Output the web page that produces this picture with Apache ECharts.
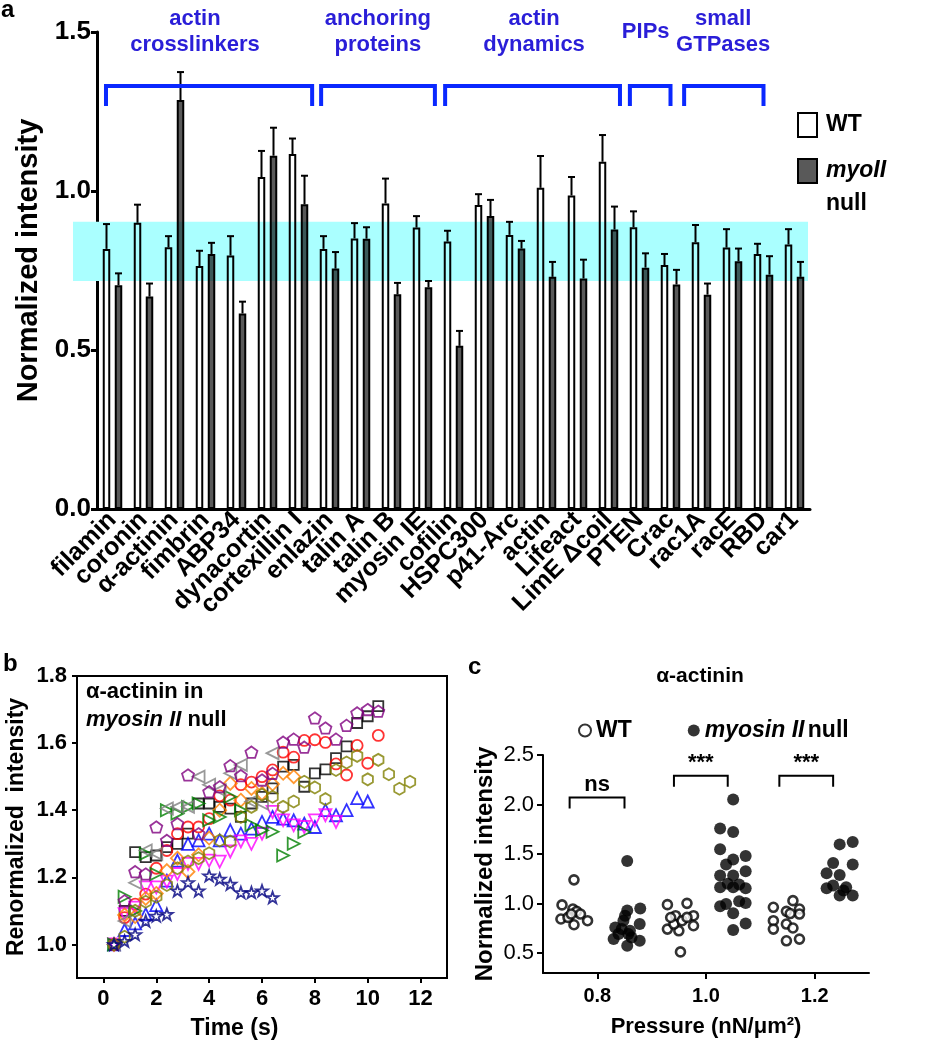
<!DOCTYPE html>
<html><head><meta charset="utf-8">
<script src="https://cdn.jsdelivr.net/npm/echarts@6/dist/echarts.min.js"></script>
<style>html,body{margin:0;padding:0;background:#fff}#c{width:936px;height:1050px}</style>
</head><body><div id="c"></div>
<script>
// ---------- Panel a data ----------
const proteins = ['filamin','coronin','α-actinin','fimbrin','ABP34','dynacortin','cortexillin I','enlazin','talin A','talin B','myosin IE','cofilin','HSPC300','p41-Arc','actin','Lifeact','LimE Δcoil','PTEN','Crac','rac1A','racE','RBD','car1'];
const wtMean   = [0.818,0.900,0.823,0.764,0.797,1.044,1.116,0.818,0.851,0.961,0.885,0.841,0.956,0.862,1.010,0.986,1.092,0.886,0.767,0.839,0.822,0.802,0.832];
const wtErr    = [0.078,0.057,0.035,0.048,0.061,0.082,0.049,0.040,0.048,0.078,0.036,0.034,0.034,0.041,0.100,0.058,0.084,0.050,0.035,0.054,0.058,0.032,0.048];
const nullMean = [0.704,0.668,1.286,0.802,0.615,1.111,0.958,0.756,0.850,0.675,0.697,0.513,0.921,0.819,0.730,0.725,0.879,0.759,0.706,0.674,0.779,0.737,0.730];
const nullErr  = [0.037,0.041,0.088,0.035,0.037,0.088,0.090,0.052,0.036,0.036,0.020,0.047,0.051,0.024,0.047,0.059,0.072,0.045,0.046,0.035,0.040,0.058,0.047];
const groupNames = ['actin\ncrosslinkers','anchoring\nproteins','actin\ndynamics','PIPs','small\nGTPases'];
const groupFirst = [0,7,11,17,19];
const groupLast  = [6,10,16,18,21];
const bandRange  = [0.717, 0.903];

// ---------- Panel b data (time s, renormalized intensity) ----------
const bSquare = [[0.4,1.0],[0.8,1.10],[1.2,1.275],[1.6,1.26],[2.0,1.265],[2.4,1.29],[2.8,1.30],[3.2,1.33],[3.6,1.42],[4.0,1.42],[4.4,1.41],[4.8,1.405],[5.2,1.38],[5.6,1.42],[6.0,1.44],[6.4,1.465],[6.8,1.53],[7.2,1.535],[7.6,1.47],[8.0,1.51],[8.4,1.522],[8.8,1.555],[9.2,1.59],[9.6,1.66],[10.0,1.68],[10.4,1.71]];
const bCircle = [[0.4,1.0],[0.8,1.08],[1.2,1.12],[1.6,1.15],[2.0,1.227],[2.4,1.28],[2.8,1.33],[3.2,1.35],[3.6,1.35],[4.0,1.375],[4.4,1.443],[4.8,1.43],[5.2,1.476],[5.6,1.484],[6.0,1.50],[6.4,1.52],[6.8,1.573],[7.2,1.558],[7.6,1.608],[8.0,1.61],[8.4,1.602],[8.8,1.538],[9.2,1.505],[9.6,1.593],[10.0,1.54],[10.4,1.623]];
const bTriUp = [[0.4,1.0],[0.8,1.043],[1.2,1.063],[1.6,1.09],[2.0,1.117],[2.4,1.19],[2.8,1.25],[3.2,1.30],[3.6,1.31],[4.0,1.33],[4.4,1.31],[4.8,1.34],[5.2,1.33],[5.6,1.345],[6.0,1.365],[6.4,1.38],[6.8,1.375],[7.2,1.37],[7.6,1.36],[8.0,1.35],[8.4,1.40],[8.8,1.385],[9.2,1.40],[9.6,1.436],[10.0,1.426]];
const bTriDown = [[0.4,1.0],[0.8,1.09],[1.2,1.11],[1.6,1.17],[2.0,1.17],[2.4,1.187],[2.8,1.21],[3.2,1.24],[3.6,1.24],[4.0,1.25],[4.4,1.247],[4.8,1.277],[5.2,1.307],[5.6,1.30],[6.0,1.33],[6.4,1.395],[6.8,1.37],[7.2,1.355],[7.6,1.35],[8.0,1.37],[8.4,1.385],[8.8,1.365]];
const bDiamond = [[0.4,1.0],[0.8,1.088],[1.2,1.083],[1.6,1.137],[2.0,1.152],[2.4,1.22],[2.8,1.257],[3.2,1.217],[3.6,1.267],[4.0,1.317],[4.4,1.40],[4.8,1.48],[5.2,1.43],[5.6,1.465],[6.0,1.45],[6.4,1.478],[6.8,1.51],[7.2,1.50]];
const bTriRight = [[0.4,1.0],[0.8,1.142],[1.2,1.10],[1.6,1.27],[2.0,1.21],[2.4,1.40],[2.8,1.39],[3.2,1.41],[3.6,1.42],[4.0,1.37],[4.4,1.38],[4.8,1.44],[5.2,1.40],[5.6,1.356],[6.0,1.34],[6.4,1.336],[6.8,1.265],[7.2,1.30],[7.6,1.335]];
const bTriLeft = [[0.4,1.0],[0.8,1.07],[1.2,1.184],[1.6,1.28],[2.0,1.27],[2.4,1.405],[2.8,1.41],[3.2,1.41],[3.6,1.50],[4.0,1.476],[4.4,1.46],[4.8,1.51],[5.2,1.535],[5.6,1.426],[6.0,1.42],[6.4,1.57]];
const bPentagon = [[0.4,1.0],[0.8,1.13],[1.2,1.217],[1.6,1.21],[2.0,1.35],[2.4,1.31],[2.8,1.36],[3.2,1.505],[3.6,1.33],[4.0,1.455],[4.4,1.47],[4.8,1.533],[5.2,1.503],[5.6,1.573],[6.0,1.49],[6.4,1.51],[6.8,1.603],[7.2,1.612],[7.6,1.588],[8.0,1.675],[8.4,1.645],[8.8,1.612],[9.2,1.653],[9.6,1.69],[10.0,1.70],[10.4,1.695]];
const bHexagon = [[0.4,1.0],[0.8,1.023],[1.2,1.10],[1.6,1.127],[2.0,1.142],[2.4,1.177],[2.8,1.227],[3.2,1.247],[3.6,1.257],[4.0,1.272],[4.4,1.31],[4.8,1.307],[5.2,1.38],[5.6,1.41],[6.0,1.446],[6.4,1.44],[6.8,1.41],[7.2,1.426],[7.6,1.485],[8.0,1.468],[8.4,1.433],[8.8,1.52],[9.2,1.542],[9.6,1.562],[10.0,1.492],[10.4,1.55],[10.8,1.507],[11.2,1.464],[11.6,1.485]];
const bStar = [[0.4,1.0],[0.8,1.01],[1.2,1.03],[1.6,1.07],[2.0,1.085],[2.4,1.09],[2.8,1.16],[3.2,1.185],[3.6,1.16],[4.0,1.205],[4.4,1.195],[4.8,1.18],[5.2,1.155],[5.6,1.155],[6.0,1.16],[6.4,1.14]];
const xTicksB = [0,2,4,6,8,10,12];
const yTicksB = [1.0,1.2,1.4,1.6,1.8];

// ---------- Panel c data (plotted position, normalized intensity) ----------
const cWT = [[0.735,0.987],[0.733,0.845],[0.757,1.24],[0.755,0.946],[0.762,0.922],[0.769,0.895],[0.757,0.787],[0.782,0.828],[0.746,0.861],[0.752,0.895],
  [0.929,0.99],[0.965,1.003],[0.944,0.878],[0.977,0.878],[0.929,0.743],[0.95,0.726],[0.977,0.777],[0.953,0.513],[0.941,0.794],[0.956,0.828],[0.965,0.861],[0.935,0.86],
  [1.16,1.03],[1.124,0.963],[1.172,0.946],[1.148,0.922],[1.172,0.895],[1.124,0.828],[1.148,0.794],[1.16,0.754],[1.124,0.743],[1.172,0.642],[1.148,0.625],[1.155,0.90]];
const cNull = [[0.855,1.43],[0.879,0.952],[0.855,0.93],[0.851,0.878],[0.848,0.828],[0.878,0.794],[0.833,0.76],[0.845,0.743],[0.86,0.726],[0.857,0.693],[0.839,0.693],[0.83,0.642],[0.863,0.658],[0.878,0.625],[0.855,0.574],
  [1.05,2.05],[1.026,1.758],[1.05,1.723],[1.026,1.548],[1.073,1.48],[1.05,1.446],[1.037,1.396],[1.073,1.328],[1.05,1.284],[1.026,1.284],[1.026,1.165],[1.05,1.165],[1.061,1.193],[1.073,1.155],[1.04,1.20],[1.061,1.023],[1.073,1.007],[1.037,0.997],[1.026,0.973],[1.05,0.902],[1.073,0.80],[1.05,0.733],
  [1.246,1.598],[1.27,1.622],[1.234,1.409],[1.27,1.395],[1.222,1.307],[1.246,1.29],[1.222,1.155],[1.234,1.182],[1.258,1.165],[1.246,1.081],[1.27,1.081],[1.253,1.132]];
const sigLabels = ['ns','***','***'];
const sigLeft   = [0.749, 0.941, 1.135];
const sigRight  = [0.850, 1.040, 1.234];
const sigTop    = [2.07, 2.29, 2.29];
const xTicksC = [0.8, 1.0, 1.2];
const yTicksC = [0.5, 1.0, 1.5, 2.0, 2.5];

// ---------- styles / layout ----------
const FF = 'Liberation Sans, Arial, sans-serif';
const GROUP_TEXT = '#2a1ed8', BRACKET = '#0a28ff';
const BAR_OFF = 6;
const bracketSpan = [[-0.21,6.44],[6.73,10.4],[10.73,16.37],[16.69,18.0],[18.44,21.0]];
const labelPos = [2.66, 8.56, 13.6, 17.2, 19.7];

const chart = echarts.init(document.getElementById('c'), null, {renderer:'canvas'});

function errRender(offset){
  return function(params, api){
    const idx = api.value(0), m = api.value(1), e = api.value(2);
    const p0 = api.coord([idx, m]), p1 = api.coord([idx, m + e]);
    const x = p0[0] + offset;
    return {type:'group', children:[
      {type:'line', shape:{x1:x,y1:p0[1],x2:x,y2:p1[1]}, style:{stroke:'#000',lineWidth:2}},
      {type:'line', shape:{x1:x-3.5,y1:p1[1],x2:x+3.5,y2:p1[1]}, style:{stroke:'#000',lineWidth:2}}
    ]};
  };
}

const star = 'path://M0,-10 L2.35,-3.24 L9.51,-3.09 L3.8,1.24 L5.88,8.09 L0,4 L-5.88,8.09 L-3.8,1.24 L-9.51,-3.09 L-2.35,-3.24 Z';
const pentagon = 'path://M0,-10 L9.51,-3.09 L5.88,8.09 L-5.88,8.09 L-9.51,-3.09 Z';
const hexagon = 'path://M0,-10 L8.66,-5 L8.66,5 L0,10 L-8.66,5 L-8.66,-5 Z';

function bSeries(name, data, color, symbol, rot, size){
  return {type:'scatter', name, xAxisIndex:2, yAxisIndex:2, data, symbol, symbolRotate:rot||0,
    symbolSize:size||11, symbolKeepAspect:true, silent:true,
    itemStyle:{color:'rgba(255,255,255,0)', borderColor:color, borderWidth:1.8}};
}

const axisFont = {fontFamily:FF, fontWeight:'bold', color:'#000'};

const option = {
  backgroundColor:'#fff',
  animation:false,
  textStyle:{fontFamily:FF},
  grid:[
    {left:97, right:126, top:32, bottom:541},
    {left:73, right:128, top:32, bottom:541},
    {left:77, right:489, top:676, bottom:72, show:true, borderColor:'#000', borderWidth:2, backgroundColor:'rgba(0,0,0,0)'},
    {left:543, right:67, top:755, bottom:77}
  ],
  xAxis:[
    {type:'category', gridIndex:0, data:proteins,
      axisLine:{lineStyle:{color:'#000', width:3}},
      axisTick:{alignWithLabel:true, length:8, lineStyle:{color:'#000', width:3}},
      axisLabel:{interval:0, rotate:45, margin:7, fontSize:25, ...axisFont}},
    {type:'value', gridIndex:1, min:0, max:1, show:false},
    {type:'value', gridIndex:2, min:-1, max:13,
      name:'Time (s)', nameLocation:'middle', nameGap:39,
      nameTextStyle:{fontSize:23, fontWeight:'bold', color:'#000', fontFamily:FF, padding:[0,55,0,0]},
      axisLine:{onZero:false, lineStyle:{color:'#000', width:2}},
      axisTick:{customValues:xTicksB, length:5, lineStyle:{color:'#000', width:2}},
      axisLabel:{customValues:xTicksB, margin:10, fontSize:22, ...axisFont},
      splitLine:{show:false}},
    {type:'value', gridIndex:3, min:0.7, max:1.3,
      name:'Pressure (nN/μm²)', nameLocation:'middle', nameGap:43,
      nameTextStyle:{fontSize:22, fontWeight:'bold', color:'#000', fontFamily:FF},
      axisLine:{onZero:false, lineStyle:{color:'#000', width:2}},
      axisTick:{customValues:xTicksC, length:6, lineStyle:{color:'#000', width:2}},
      axisLabel:{customValues:xTicksC, margin:13, fontSize:20, formatter:v=>v.toFixed(1), ...axisFont},
      splitLine:{show:false}}
  ],
  yAxis:[
    {type:'value', gridIndex:0, min:0, max:1.5, interval:0.5,
      name:'Normalized intensity', nameLocation:'middle', nameGap:48,
      nameTextStyle:{fontSize:29, fontWeight:'bold', color:'#000', fontFamily:FF, padding:[0,0,0,20]},
      axisLine:{show:true, lineStyle:{color:'#000', width:3}},
      axisTick:{show:true, length:6, lineStyle:{color:'#000', width:3}},
      axisLabel:{margin:6, fontSize:26, formatter:v=>v.toFixed(1), ...axisFont},
      splitLine:{show:false}},
    {type:'value', gridIndex:1, min:0, max:1.5, show:false},
    {type:'value', gridIndex:2, min:0.9, max:1.8,
      name:'Renormalized  intensity', nameLocation:'middle', nameGap:49,
      nameTextStyle:{fontSize:23, fontWeight:'bold', color:'#000', fontFamily:FF},
      axisLine:{show:true, onZero:false, lineStyle:{color:'#000', width:2}},
      axisTick:{show:true, customValues:yTicksB, length:5, lineStyle:{color:'#000', width:2}},
      axisLabel:{customValues:yTicksB, margin:10, fontSize:22, formatter:v=>v.toFixed(1), ...axisFont},
      splitLine:{show:false}},
    {type:'value', gridIndex:3, min:0.3, max:2.5,
      name:'Normalized intensity', nameLocation:'middle', nameGap:46,
      nameTextStyle:{fontSize:24, fontWeight:'bold', color:'#000', fontFamily:FF},
      axisLine:{show:true, onZero:false, lineStyle:{color:'#000', width:2}},
      axisTick:{show:true, customValues:yTicksC, length:6, lineStyle:{color:'#000', width:2}},
      axisLabel:{customValues:yTicksC, margin:9, fontSize:22, formatter:v=>v.toFixed(1), fontFamily:FF, color:'#000'},
      splitLine:{show:false}}
  ],
  legend:[
    {data:['WT'], orient:'vertical', left:797, top:112, padding:0, itemWidth:19, itemHeight:24, icon:'rect',
      selectedMode:false, textStyle:{fontSize:23, fontWeight:'bold', color:'#000', fontFamily:FF, padding:[0,0,0,4]}},
    {data:['myoII null'], orient:'vertical', left:797, top:158, padding:0, itemWidth:19, itemHeight:24, icon:'rect',
      selectedMode:false,
      formatter:()=>'{i|myoII}\n{n|null}',
      textStyle:{padding:[33,0,0,4], rich:{
        i:{fontSize:23, fontWeight:'bold', fontStyle:'italic', color:'#000', fontFamily:FF, lineHeight:33},
        n:{fontSize:23, fontWeight:'bold', color:'#000', fontFamily:FF, lineHeight:33}}}},
    {data:['WT c','myosin II null'], orient:'horizontal', left:578, top:719, padding:0, itemWidth:12, itemHeight:12,
      itemGap:56, icon:'circle', selectedMode:false,
      formatter:n=> n==='WT c' ? '{b|WT}' : '{i|myosin II} {b|null}',
      textStyle:{rich:{
        b:{fontSize:23, fontWeight:'bold', color:'#000', fontFamily:FF},
        i:{fontSize:23, fontWeight:'bold', fontStyle:'italic', color:'#000', fontFamily:FF}}}}
  ],
  series:[
    {type:'custom', name:'band', xAxisIndex:1, yAxisIndex:1, z:1, silent:true, clip:false,
      data:[[bandRange[0], bandRange[1]]],
      renderItem:(params, api)=>{
        const pTop = api.coord([0, api.value(1)]), pBot = api.coord([1, api.value(0)]);
        return {type:'rect', shape:{x:pTop[0], y:pTop[1], width:pBot[0]-pTop[0], height:pBot[1]-pTop[1]},
          style:{fill:'#aaffff'}};
      }},
    {type:'bar', name:'WT', xAxisIndex:0, yAxisIndex:0, data:wtMean, barWidth:7.5, barGap:'60%', barCategoryGap:'20%',
      itemStyle:{color:'rgba(255,255,255,0)', borderColor:'#000', borderWidth:2}, z:2, silent:true},
    {type:'bar', name:'myoII null', xAxisIndex:0, yAxisIndex:0, data:nullMean, barWidth:7.5, barGap:'60%',
      itemStyle:{color:'rgba(0,0,0,0.65)', borderColor:'#000', borderWidth:2}, z:2, silent:true},
    {type:'custom', name:'wtErr', xAxisIndex:0, yAxisIndex:0, z:3, silent:true, clip:false,
      data: wtMean.map((m,i)=>[i, m, wtErr[i]]), encode:{x:0, y:1}, renderItem: errRender(-BAR_OFF)},
    {type:'custom', name:'nullErr', xAxisIndex:0, yAxisIndex:0, z:3, silent:true, clip:false,
      data: nullMean.map((m,i)=>[i, m, nullErr[i]]), encode:{x:0, y:1}, renderItem: errRender(BAR_OFF)},
    {type:'custom', name:'groups', xAxisIndex:0, yAxisIndex:0, z:4, silent:true, clip:false,
      data: groupNames.map((g,i)=>[groupFirst[i], 1.5, groupLast[i]]), encode:{x:0, y:1},
      renderItem:(params, api)=>{
        const i = params.dataIndex;
        const c0 = api.coord([0, 1.33]);
        const yFoot = api.coord([0, 1.267])[1];
        const yText = api.coord([0, 1.5])[1];
        const bw = api.size([1, 0])[0];
        const xL = c0[0] + bracketSpan[i][0]*bw, xR = c0[0] + bracketSpan[i][1]*bw;
        return {type:'group', children:[
          {type:'polyline', shape:{points:[[xL,yFoot],[xL,c0[1]],[xR,c0[1]],[xR,yFoot]]},
            style:{stroke:BRACKET, lineWidth:4, fill:null}},
          {type:'text', x:c0[0] + labelPos[i]*bw, y:yText,
            style:{text:groupNames[i], align:'center', verticalAlign:'middle', fill:GROUP_TEXT,
              font:'bold 22px '+FF, lineHeight:26}}
        ]};
      }},
    bSeries('sq', bSquare, '#000000', 'rect', 0, 10),
    bSeries('ci', bCircle, '#ff0000', 'circle', 0, 11),
    bSeries('tu', bTriUp, '#0000ff', 'triangle', 0, 12),
    bSeries('td', bTriDown, '#ff00ff', 'triangle', 180, 12),
    bSeries('di', bDiamond, '#ff8000', 'diamond', 0, 13),
    bSeries('tr', bTriRight, '#008000', 'triangle', -90, 12),
    bSeries('tl', bTriLeft, '#808080', 'triangle', 90, 12),
    bSeries('pe', bPentagon, '#800080', pentagon, 0, 12),
    bSeries('hx', bHexagon, '#808000', hexagon, 0, 12),
    bSeries('st', bStar, '#000080', star, 0, 12),
    {type:'scatter', name:'WT c', xAxisIndex:3, yAxisIndex:3, data:cWT, symbol:'circle', symbolSize:9, silent:true,
      itemStyle:{color:'#fff', borderColor:'#000', borderWidth:2.6}},
    {type:'scatter', name:'myosin II null', xAxisIndex:3, yAxisIndex:3, data:cNull, symbol:'circle', symbolSize:12, silent:true,
      itemStyle:{color:'#000'}},
    {type:'custom', name:'sig', xAxisIndex:3, yAxisIndex:3, z:4, silent:true, clip:false,
      data: sigLabels.map((s,i)=>[sigLeft[i], sigTop[i], sigRight[i]]), encode:{x:0, y:1},
      renderItem:(params, api)=>{
        const i = params.dataIndex;
        const pL = api.coord([sigLeft[i], sigTop[i]]), pR = api.coord([sigRight[i], sigTop[i]]);
        const foot = 11;
        return {type:'group', children:[
          {type:'polyline', shape:{points:[[pL[0],pL[1]+foot],[pL[0],pL[1]],[pR[0],pR[1]],[pR[0],pR[1]+foot]]},
            style:{stroke:'#000', lineWidth:2, fill:null}},
          {type:'text', x:(pL[0]+pR[0])/2, y:pL[1]-13,
            style:{text:sigLabels[i], align:'center', verticalAlign:'middle', fill:'#000', font:'bold 22px '+FF}}
        ]};
      }}
  ],
  graphic:[
    {type:'text', left:1, top:-2, style:{text:'a', font:'bold 24px '+FF, fill:'#000'}},
    {type:'text', left:3, top:652, style:{text:'b', font:'bold 24px '+FF, fill:'#000'}},
    {type:'text', left:468, top:655, style:{text:'c', font:'bold 24px '+FF, fill:'#000'}},
    {type:'text', left:86, top:681, style:{rich:{n:{font:'bold 22px '+FF, fill:'#000', lineHeight:28},
      i:{font:'italic bold 22px '+FF, fill:'#000', lineHeight:28}}, text:'{n|α-actinin in}\n{i|myosin II}{n| null}'}},
    {type:'text', x:700, y:676, style:{text:'α-actinin', font:'bold 21px '+FF, fill:'#000', align:'center', verticalAlign:'middle'}}
  ]
};
chart.setOption(option);
</script>
</body></html>
